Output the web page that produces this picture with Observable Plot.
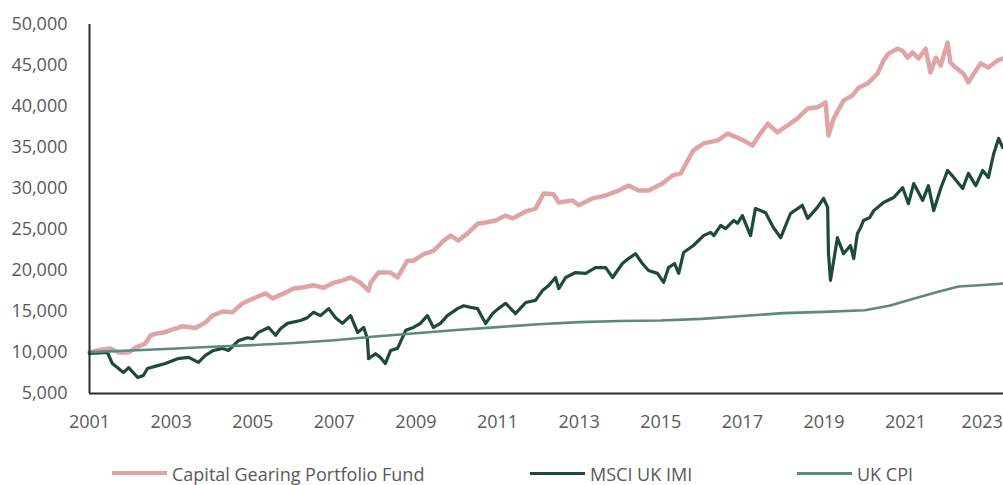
<!DOCTYPE html>
<html>
<head>
<meta charset="utf-8">
<script src="https://cdn.jsdelivr.net/npm/d3@7"></script>
<script src="https://cdn.jsdelivr.net/npm/@observablehq/plot@0.6"></script>
<style>
  html, body { margin: 0; padding: 0; background: #fff; }
  #wrap { position: relative; width: 1003px; height: 485px; overflow: hidden; font-family: "Open Sans", sans-serif; }
  .sw { position: absolute; height: 4px; width: 55px; }
  .lt { position: absolute; font-size: 18px; line-height: 20px; color: #595959; white-space: nowrap; }
</style>
</head>
<body>
<div id="wrap"></div>
<script>
// Series: [decimal year, value]
const capitalGearing = [
  [2001.00,10000],[2001.25,10300],[2001.51,10500],[2001.71,10000],[2001.96,10000],[2002.13,10600],
  [2002.37,11100],[2002.50,12100],[2002.62,12300],[2002.79,12400],[2003.03,12800],[2003.28,13200],
  [2003.60,13000],[2003.84,13650],[2004.01,14500],[2004.26,15000],[2004.50,14900],[2004.75,16000],
  [2005.07,16700],[2005.31,17200],[2005.49,16600],[2005.80,17300],[2006.00,17800],[2006.25,17950],[2006.49,18200],
  [2006.74,17900],[2006.98,18500],[2007.20,18800],[2007.40,19150],[2007.64,18500],[2007.84,17550],[2007.89,18500],
  [2008.08,19750],[2008.38,19750],[2008.55,19150],[2008.79,21200],[2008.94,21200],[2009.19,22000],
  [2009.43,22400],[2009.68,23650],[2009.85,24250],[2010.04,23650],[2010.26,24500],[2010.51,25700],
  [2010.71,25850],[2010.95,26100],[2011.20,26700],[2011.37,26350],[2011.69,27200],[2011.93,27550],
  [2012.13,29400],[2012.37,29300],[2012.50,28300],[2012.84,28550],[2012.99,27950],[2013.33,28800],
  [2013.65,29150],[2013.97,29750],[2014.21,30350],[2014.46,29750],[2014.70,29750],[2015.04,30600],
  [2015.29,31600],[2015.49,31850],[2015.66,33400],[2015.80,34650],[2016.05,35500],[2016.39,35850],
  [2016.64,36700],[2016.88,36200],[2017.03,35850],[2017.25,35250],[2017.37,36200],[2017.62,37900],
  [2017.86,36850],[2018.11,37700],[2018.35,38550],[2018.60,39750],[2018.84,39900],[2019.04,40500],
  [2019.11,36450],[2019.24,38550],[2019.48,40750],[2019.70,41350],[2019.85,42300],[2020.07,42800],
  [2020.31,44000],[2020.46,45600],[2020.58,46450],[2020.80,47050],[2020.93,46800],[2021.05,45950],
  [2021.17,46600],[2021.32,45850],[2021.49,47050],[2021.61,44150],[2021.74,45950],[2021.86,45000],
  [2022.03,47800],[2022.10,45350],[2022.23,44750],[2022.42,44000],[2022.54,42950],[2022.67,44000],
  [2022.84,45250],[2023.03,44750],[2023.25,45600],[2023.38,45850]
];
const msciUkImi = [
  [2001.00,9900],[2001.44,10000],[2001.56,8650],[2001.69,8150],[2001.83,7550],[2001.96,8150],
  [2002.18,6950],[2002.32,7200],[2002.42,8050],[2002.67,8400],[2002.86,8650],[2003.16,9250],
  [2003.43,9400],[2003.67,8800],[2003.84,9650],[2004.04,10250],[2004.26,10500],[2004.41,10250],
  [2004.65,11450],[2004.87,11800],[2005.00,11700],[2005.14,12450],[2005.39,13050],[2005.56,12100],
  [2005.68,12900],[2005.85,13550],[2006.17,13900],[2006.34,14250],[2006.49,14900],[2006.66,14500],
  [2006.86,15350],[2007.03,14250],[2007.20,13550],[2007.40,14500],[2007.57,12450],[2007.72,13050],
  [2007.81,11700],[2007.84,9250],[2008.01,9850],[2008.13,9400],[2008.25,8650],[2008.38,10250],
  [2008.55,10500],[2008.75,12700],[2008.94,13050],[2009.11,13550],[2009.28,14500],[2009.43,13050],
  [2009.60,13550],[2009.77,14500],[2010.02,15350],[2010.17,15700],[2010.34,15500],[2010.51,15350],
  [2010.63,14250],[2010.71,13550],[2010.88,14750],[2011.02,15350],[2011.20,16000],[2011.44,14750],
  [2011.69,16100],[2011.93,16350],[2012.10,17550],[2012.25,18150],[2012.42,19150],[2012.50,17800],
  [2012.67,19150],[2012.91,19750],[2013.16,19650],[2013.40,20350],[2013.65,20350],[2013.82,19150],
  [2014.06,20850],[2014.21,21450],[2014.38,22050],[2014.55,20850],[2014.70,20000],[2014.92,19650],
  [2015.07,18550],[2015.19,20350],[2015.34,20850],[2015.44,19650],[2015.56,22200],[2015.80,23050],
  [2016.05,24250],[2016.22,24650],[2016.30,24250],[2016.47,25500],[2016.59,25100],[2016.79,26100],
  [2016.88,25750],[2017.00,26700],[2017.20,24250],[2017.32,27550],
  [2017.57,27050],[2017.76,25250],[2017.94,24000],[2018.18,26950],[2018.47,27950],[2018.60,26350],
  [2018.84,27700],[2018.99,28800],[2019.09,27700],[2019.11,22200],[2019.16,18800],[2019.33,24000],
  [2019.48,22050],[2019.65,23050],[2019.73,21450],[2019.82,24500],[2019.90,25250],[2019.97,26100],
  [2020.12,26450],[2020.22,27300],[2020.46,28300],[2020.71,28900],[2020.93,30100],[2021.07,28150],
  [2021.20,30600],[2021.42,28550],[2021.56,30350],[2021.69,27300],[2021.86,30000],[2022.03,32200],
  [2022.18,31350],[2022.40,30000],[2022.54,31850],[2022.72,30350],[2022.89,32200],[2023.03,31350],
  [2023.16,34250],[2023.28,36100],[2023.38,35000]
];
const ukCpi = [
  [2001.0,10050],[2002.0,10250],[2003.0,10450],[2004.0,10700],[2005.0,10900],[2006.0,11150],
  [2007.0,11500],[2008.0,11950],[2009.0,12350],[2010.0,12750],[2011.0,13100],[2012.0,13450],
  [2013.0,13700],[2014.0,13850],[2015.0,13900],[2016.0,14100],[2017.0,14450],[2018.0,14800],
  [2019.0,14950],[2020.0,15150],[2020.6,15700],[2021.3,16700],[2021.8,17400],[2022.3,18050],
  [2022.8,18200],[2023.38,18400]
];
const seriesNames = ["Capital Gearing Portfolio Fund", "MSCI UK IMI", "UK CPI"];
const seriesColors = ["#e0a4a6", "#1d4a3d", "#5d8a7f"];
const xTicks = [2001, 2003, 2005, 2007, 2009, 2011, 2013, 2015, 2017, 2019, 2021, 2023];
const yTicks = [5000, 10000, 15000, 20000, 25000, 30000, 35000, 40000, 45000, 50000];

const toRows = arr => arr.map(([year, value]) => ({year, value}));

const chart = Plot.plot({
  width: 1003,
  height: 445,
  marginLeft: 89,
  marginRight: 0,
  marginTop: 24,
  marginBottom: 52,
  style: {fontFamily: "'Open Sans', sans-serif", fontSize: "18px", color: "#595959", background: "white", overflow: "visible"},
  x: {domain: [2001, 2023.4], label: null},
  y: {domain: [5000, 50000], label: null},
  marks: [
    Plot.axisY(yTicks, {tickFormat: d3.format(","), tickSize: 0, tickPadding: 22, label: null}),
    Plot.axisX(xTicks.slice(0, -1), {tickFormat: d => String(d), tickSize: 0, tickPadding: 22, label: null}),
    Plot.axisX(xTicks.slice(-1), {tickFormat: d => String(d), tickSize: 0, tickPadding: 22, dx: -5, label: null}),
    Plot.line(toRows(capitalGearing), {x: "year", y: "value", stroke: seriesColors[0], strokeWidth: 4.5, strokeLinejoin: "round"}),
    Plot.line(toRows(msciUkImi), {x: "year", y: "value", stroke: seriesColors[1], strokeWidth: 3.2, strokeLinejoin: "round"}),
    Plot.line(toRows(ukCpi), {x: "year", y: "value", stroke: seriesColors[2], strokeWidth: 2.6, strokeLinejoin: "round"}),
    Plot.ruleX([2001], {stroke: "#2b2b2b", strokeWidth: 2}),
    Plot.ruleY([5000], {stroke: "#2b2b2b", strokeWidth: 2})
  ]
});

const wrap = document.getElementById("wrap");
wrap.appendChild(chart);

const legendX = [112, 530, 797];
const swH = [4, 3, 3];
seriesNames.forEach((name, i) => {
  const sw = document.createElement("div");
  sw.className = "sw";
  sw.style.left = legendX[i] + "px";
  sw.style.top = (473 - swH[i] / 2) + "px";
  sw.style.height = swH[i] + "px";
  sw.style.background = seriesColors[i];
  wrap.appendChild(sw);
  const t = document.createElement("div");
  t.className = "lt";
  t.style.left = (legendX[i] + 60) + "px";
  t.style.top = "464px";
  t.textContent = name;
  wrap.appendChild(t);
});
</script>
</body>
</html>
